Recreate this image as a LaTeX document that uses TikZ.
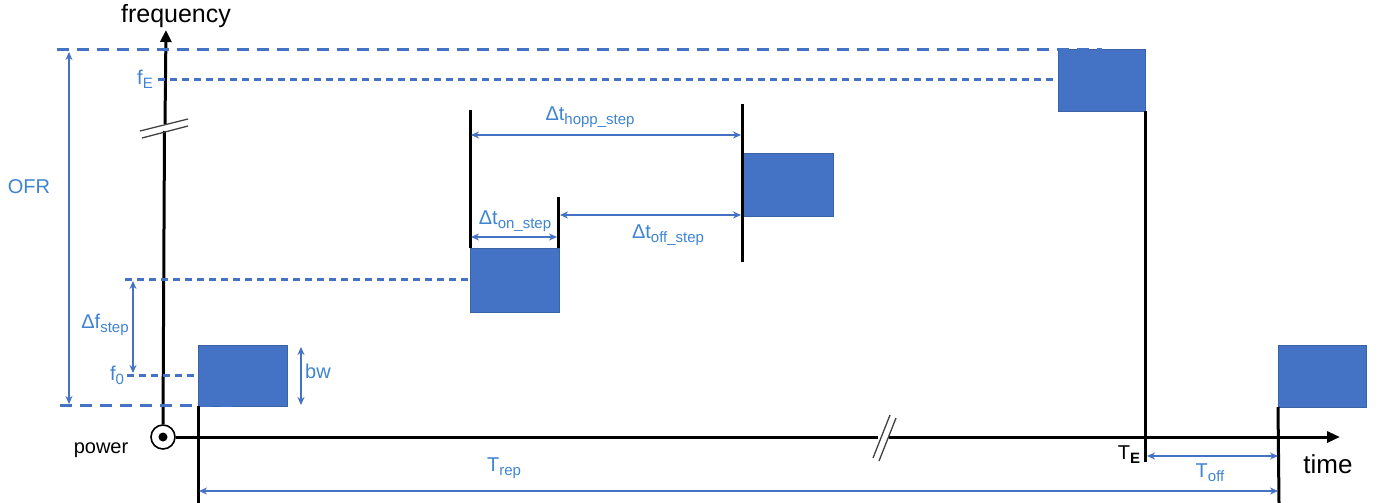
\documentclass[tikz,border=0pt]{standalone}
\usepackage{fontspec}
\setmainfont{Liberation Sans}
\usetikzlibrary{arrows.meta}
\definecolor{ofblue}{HTML}{4472C4}
\definecolor{ofdark}{HTML}{3A63A8}
\definecolor{lblue}{HTML}{3F84D2}
\newcommand{\lbsub}[2]{#1\raisebox{-0.4ex}{\fontsize{15}{15}\selectfont #2}}
\begin{document}
\begin{tikzpicture}[x=1pt,y=-1pt,
  blk/.style={line width=3pt, black},
  dimarrow/.style={ofblue, line width=2.4pt, {Stealth[length=8pt,width=7pt]}-{Stealth[length=8pt,width=7pt]}},
  longdash/.style={ofblue, line width=3pt, dash pattern=on 12pt off 8pt},
  shortdash/.style={ofblue, line width=3pt, dash pattern=on 7pt off 5pt},
  pulse/.style={fill=ofblue, draw=ofdark, line width=1pt, inner sep=0pt, outer sep=0pt, anchor=north west},
  lbl/.style={text=lblue, font=\fontsize{20}{24}\selectfont, inner sep=0pt},
  brk/.style={line width=1.3pt, black!75},
]
\useasboundingbox (0,0) rectangle (1378,503);

% pulses
\node[pulse, minimum width=89pt, minimum height=61pt] (p1) at (198,345) {};
\node[pulse, minimum width=89pt, minimum height=64pt] (p2) at (470,248) {};
\node[pulse, minimum width=90pt, minimum height=63pt] (p3) at (743,153) {};
\node[pulse, minimum width=87pt, minimum height=61pt] (p4) at (1058,50) {};
\node[pulse, minimum width=88pt, minimum height=62pt] (p5) at (1278,345) {};

% coordinates
\coordinate (b1) at (198,503);
\coordinate (b5) at (1279,503);
\coordinate (t2a) at (470,110);
\coordinate (t2b) at (558,197);
\coordinate (v3t) at (742,104);
\coordinate (v3b) at (742,262);
\coordinate (te) at (1145,462);
\coordinate (p4b) at (1145,111);

% black vertical time markers
\draw[blk] (p1.south west) -- (b1);
\draw[blk] (p5.south west) -- (b5);
\draw[blk] (t2a) -- (p2.north west);
\draw[blk] (t2b) -- (p2.north east -| t2b);
\draw[blk] (v3t) -- (v3b);
\draw[blk] (p4b) -- (te);

% origin
\node[circle, draw, line width=1.6pt, minimum size=24pt, inner sep=0pt, fill=white] (O) at (163,437) {};
\fill (O.center) circle (4.5pt);

% frequency axis
\coordinate (fa1) at (164.5,131);
\coordinate (fa2) at (165,124);
\coordinate (ftop) at (166,30);
\draw[blk] (O.north) -- (fa1);
\draw[blk, -{Triangle[length=12pt,width=11pt]}] (fa2) -- (ftop);
\coordinate (fb1a) at (140,131); \coordinate (fb1b) at (188,119);
\coordinate (fb2a) at (142,138); \coordinate (fb2b) at (188,126);
\draw[brk] (fb1a) -- (fb1b);
\draw[brk] (fb2a) -- (fb2b);

% time axis
\coordinate (ta1) at (878,437);
\coordinate (ta2) at (889,437);
\coordinate (tend) at (1340,437);
\draw[blk] (O.east) -- (ta1);
\draw[blk, -{Triangle[length=13pt,width=11pt]}] (ta2) -- (tend);
\coordinate (tb1a) at (873,458); \coordinate (tb1b) at (890,415);
\coordinate (tb2a) at (879,461); \coordinate (tb2b) at (896,418);
\draw[brk] (tb1a) -- (tb1b);
\draw[brk] (tb2a) -- (tb2b);

% dashed frequency lines
\coordinate (dtop1) at (57,50);   \coordinate (dtop2) at (1102,50);
\coordinate (dbot1) at (60,405);  \coordinate (dbot2) at (234,405);
\coordinate (dfe1) at (158,79);
\coordinate (dfs1) at (125,279);
\coordinate (df01) at (127,375);
\draw[longdash] (dtop1) -- (dtop2);
\draw[longdash] (dbot1) -- (dbot2);
\draw[shortdash] (dfe1) -- (dfe1 -| p4.west);
\draw[shortdash] (dfs1) -- (dfs1 -| p2.west);
\draw[shortdash] (df01) -- (df01 -| p1.west);

% dimension arrows
\coordinate (ofr1) at (69,52);   \coordinate (ofr2) at (69,404);
\coordinate (dfa) at (133,281);  \coordinate (dfb) at (133,373);
\coordinate (bw1) at (301,347);  \coordinate (bw2) at (301,405);
\coordinate (h1) at (471,135);   \coordinate (h2) at (741,135);
\coordinate (on1) at (471,237);  \coordinate (on2) at (557,237);
\coordinate (of1) at (560,215);  \coordinate (of2) at (741,215);
\coordinate (tr1) at (199,491);  \coordinate (tr2) at (1278,491);
\coordinate (to1) at (1147,456); \coordinate (to2) at (1278,456);
\draw[dimarrow] (ofr1) -- (ofr2);
\draw[dimarrow] (dfa) -- (dfb);
\draw[dimarrow, line width=1.8pt] (bw1) -- (bw2);
\draw[dimarrow] (h1) -- (h2);
\draw[dimarrow] (on1) -- (on2);
\draw[dimarrow] (of1) -- (of2);
\draw[dimarrow] (tr1) -- (tr2);
\draw[dimarrow] (to1) -- (to2);

% labels
\node[inner sep=0pt, font=\fontsize{25}{29}\selectfont] (lfreq) at (176,16) {frequency};
\node[inner sep=0pt, font=\fontsize{26}{30}\selectfont] (ltime) at (1328,464) {time};
\node[inner sep=0pt, font=\fontsize{20}{24}\selectfont] (lpow) at (101,450) {power};
\node[lbl] (lofr) at (29,187) {OFR};
\node[lbl] (lfe) at (145,79) {\lbsub{f}{E}};
\node[lbl] (lf0) at (117,375) {\lbsub{f}{0}};
\node[lbl] (ldf) at (105,325) {\lbsub{Δf}{step}};
\node[lbl] (lbw) at (318,371) {bw};
\node[lbl] (lhopp) at (590,117) {\lbsub{Δt}{hopp\_step}};
\node[lbl] (lon) at (515,221) {\lbsub{Δt}{on\_step}};
\node[lbl] (loff) at (668,235) {\lbsub{Δt}{off\_step}};
\node[lbl] (ltrep) at (504,468) {\lbsub{T}{rep}};
\node[lbl] (ltoff) at (1210,473) {\lbsub{T}{off}};
\node[inner sep=0pt, font=\fontsize{20}{24}\selectfont] (lte) at (1129,455) {T\raisebox{-0.4ex}{\fontsize{15}{15}\selectfont\bfseries E}};
\end{tikzpicture}
\end{document}
